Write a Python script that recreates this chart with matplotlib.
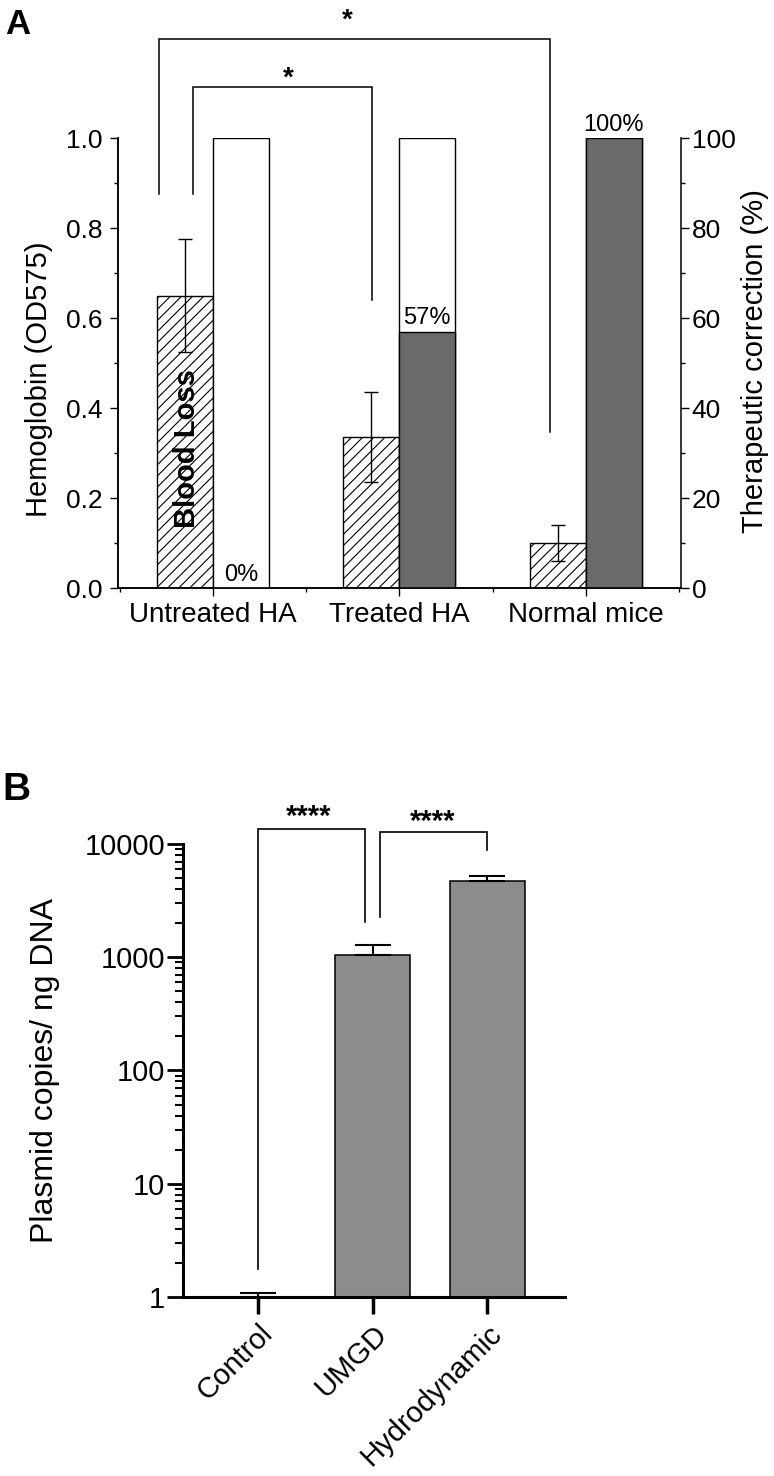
import numpy as np
import matplotlib
matplotlib.use("Agg")
import matplotlib.pyplot as plt
from matplotlib.ticker import LogLocator, FixedLocator, NullFormatter

plt.rcParams['font.family'] = ['Liberation Sans', 'DejaVu Sans']
plt.rcParams['hatch.linewidth'] = 0.8

# panel A data
groups_a = ["Untreated HA", "Treated HA", "Normal mice"]
hemoglobin = [0.65, 0.335, 0.10]
hemo_err = [0.125, 0.10, 0.04]
correction = [0, 57, 100]
correction_labels = ["0%", "57%", "100%"]

# panel B data
groups_b = ["Control", "UMGD", "Hydrodynamic"]
copies = [1.0, 1047, 4710]
copies_err = [0.08, 236, 505]

fig = plt.figure(figsize=(7.74, 14.76), dpi=100)

# ---------------- panel A ----------------
ax = fig.add_axes([0.1525, 0.6016, 0.727, 0.3047])
ax2 = ax.twinx()
x = np.arange(len(groups_a))
w = 0.3

ax.bar(x - w / 2, hemoglobin, w, color='white', edgecolor='black',
       hatch='///', linewidth=1.0, zorder=2)
ax.errorbar(x - w / 2, hemoglobin, yerr=hemo_err, fmt='none', ecolor='black',
            elinewidth=1.0, capsize=5, capthick=1.0, zorder=3)

ax2.bar(x + w / 2, [100] * 3, w, color='white', edgecolor='black', linewidth=1.0, zorder=1)
ax2.bar(x + w / 2, correction, w, color='#6a6a6a', edgecolor='black', linewidth=1.0, zorder=2)
for i, (v, lab) in enumerate(zip(correction, correction_labels)):
    ax2.text(i + w / 2, v + 0.5, lab, ha='center', va='bottom', fontsize=17)

ax.text(-w / 2 + 0.01, 0.31, "Blood Loss", rotation=90, ha='center', va='center',
        fontsize=21, fontweight='bold', zorder=4)

ax.set_xlim(-0.51, 2.51)
ax.set_ylim(0, 1.0)
ax2.set_ylim(0, 100)
ax.set_xticks(x)
ax.set_xticklabels(groups_a, fontsize=20)
ax.xaxis.set_minor_locator(FixedLocator([-0.5, 0.5, 1.5, 2.5]))
ax.set_yticks(np.arange(0, 1.01, 0.2))
ax.set_yticklabels([f"{t:.1f}" for t in np.arange(0, 1.01, 0.2)], fontsize=19)
ax.yaxis.set_minor_locator(FixedLocator(np.arange(0.1, 1.0, 0.2)))
ax2.set_yticks(np.arange(0, 101, 20))
ax2.set_yticklabels([str(t) for t in range(0, 101, 20)], fontsize=19)
ax2.yaxis.set_minor_locator(FixedLocator(np.arange(10, 100, 20)))

for a in (ax, ax2):
    a.spines['top'].set_visible(False)
    for s in a.spines.values():
        s.set_linewidth(1.1)
    a.tick_params(which='major', length=6, width=1.0, direction='out')
    a.tick_params(which='minor', length=3, width=1.0, direction='out')
ax.spines['right'].set_visible(False)
ax.tick_params(axis='y', pad=5)
ax.tick_params(axis='x', pad=4)
ax2.tick_params(axis='y', pad=2)

fig.text(0.050, 0.743, "Hemoglobin (OD575)", rotation=90, ha='center', va='center', fontsize=21)
fig.text(0.975, 0.7554, "Therapeutic correction (%)", rotation=90, ha='center', va='center', fontsize=21)

# significance brackets A
def bracket(axis, x1, x2, y1, y2, ytop, lw):
    axis.plot([x1, x1, x2, x2], [y1, ytop, ytop, y2], color='black', lw=lw,
              clip_on=False, zorder=5, solid_joinstyle='miter')

bracket(ax, -0.29, 1.81, 0.876, 0.347, 1.22, 1.1)
bracket(ax, -0.108, 0.855, 0.876, 0.640, 1.114, 1.1)
ax.text(0.72, 1.245, "*", ha='center', va='baseline', fontsize=20, fontweight='bold', clip_on=False)
ax.text(0.403, 1.118, "*", ha='center', va='baseline', fontsize=20, fontweight='bold', clip_on=False)

fig.text(0.006, 0.9946, "A", ha='left', va='top', fontsize=25, fontweight='bold')

# ---------------- panel B ----------------
bx = fig.add_axes([0.2364, 0.1213, 0.4936, 0.3069])
xb = np.arange(len(groups_b))
bx.bar(xb, copies, 0.655, color='#8c8c8c', edgecolor='black', linewidth=1.1, zorder=2)
bx.errorbar(xb, copies, yerr=[[0] * 3, copies_err], fmt='none', ecolor='black',
            elinewidth=1.5, capsize=13, capthick=1.5, zorder=3)
bx.set_yscale('log')
bx.set_ylim(1, 10000)
bx.set_xlim(-0.655, 2.68)
bx.set_yticks([1, 10, 100, 1000, 10000])
bx.set_yticklabels(["1", "10", "100", "1000", "10000"], fontsize=21)
bx.yaxis.set_minor_locator(LogLocator(base=10, subs=np.arange(2, 10), numticks=20))
bx.yaxis.set_minor_formatter(NullFormatter())
bx.set_xticks(xb)
bx.set_xticklabels(groups_b, fontsize=21, rotation=45, ha='right', va='top',
                   rotation_mode='anchor')
bx.spines['top'].set_visible(False)
bx.spines['right'].set_visible(False)
for s in ('left', 'bottom'):
    bx.spines[s].set_linewidth(2.2)
bx.tick_params(axis='y', which='major', length=11.5, width=2.0, pad=1.5)
bx.tick_params(axis='y', which='minor', length=6, width=1.5)
bx.tick_params(axis='x', which='major', length=12, width=2.5, pad=4)

bracket(bx, 0, 0.934, 1.77, 2047, 13560, 1.2)
bracket(bx, 1.066, 2.0, 2266, 8850, 12760, 1.2)
bx.text(0.445, 14870, "****", ha='center', va='baseline', fontsize=21, fontweight='bold', clip_on=False)
bx.text(1.52, 13430, "****", ha='center', va='baseline', fontsize=21, fontweight='bold', clip_on=False)

fig.text(0.058, 0.275, "Plasmid copies/ ng DNA", rotation=90, ha='center', va='center', fontsize=23)
fig.text(0.003, 0.4770, "B", ha='left', va='top', fontsize=28, fontweight='bold')

fig.savefig("out.png", dpi=100)
